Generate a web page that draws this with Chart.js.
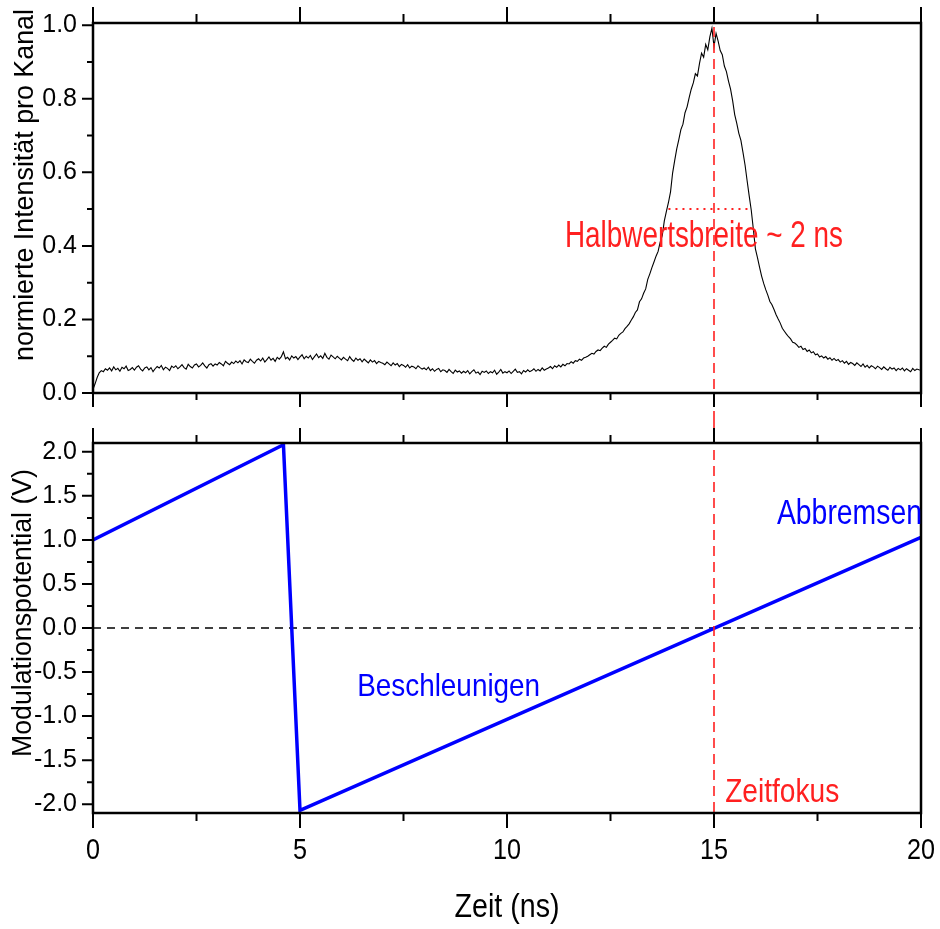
<!DOCTYPE html>
<html lang="de">
<head>
<meta charset="utf-8">
<title>Zeitfokus</title>
<script src="https://cdn.jsdelivr.net/npm/chart.js@4.4.1/dist/chart.umd.min.js"></script>
<style>
  html, body { margin: 0; padding: 0; background: #fff; }
  #wrap { position: relative; width: 940px; height: 929px; }
  #oben { position: absolute; left: 0; top: 0; }
  #unten { position: absolute; left: 0; top: 418px; }
</style>
</head>
<body>
<div id="wrap">
  <canvas id="oben" width="940" height="418"></canvas>
  <canvas id="unten" width="940" height="511"></canvas>
</div>
<script>
"use strict";

// Messdaten: normierte Intensitaet pro Kanal, ein Wert alle 0.05 ns (0 ... 20 ns)
const kanalBreiteNs = 0.05;
const intensitaet = [
  0.010, 0.025, 0.042, 0.055, 0.061, 0.058, 0.066, 0.062, 0.068, 0.060,
  0.071, 0.063, 0.067, 0.059, 0.070, 0.066, 0.073, 0.061, 0.064, 0.069,
  0.062, 0.070, 0.074, 0.065, 0.060, 0.068, 0.071, 0.063, 0.069, 0.058,
  0.066, 0.072, 0.068, 0.075, 0.063, 0.070, 0.067, 0.061, 0.073, 0.069,
  0.074, 0.066, 0.071, 0.077, 0.069, 0.065, 0.078, 0.072, 0.068, 0.076,
  0.079, 0.071, 0.075, 0.082, 0.074, 0.068, 0.077, 0.080, 0.073, 0.079,
  0.076, 0.083, 0.079, 0.074, 0.086, 0.081, 0.077, 0.084, 0.080, 0.087,
  0.082, 0.088, 0.079, 0.090, 0.085, 0.083, 0.092, 0.086, 0.081, 0.089,
  0.093, 0.087, 0.095, 0.084, 0.091, 0.098, 0.089, 0.094, 0.086, 0.097,
  0.092, 0.099, 0.112, 0.093, 0.097, 0.090, 0.101, 0.095, 0.099, 0.091,
  0.098, 0.104, 0.093, 0.100, 0.095, 0.102, 0.091, 0.099, 0.106, 0.096,
  0.101, 0.094, 0.108, 0.097, 0.092, 0.103, 0.098, 0.093, 0.100, 0.095,
  0.090, 0.097, 0.092, 0.088, 0.099, 0.091, 0.086, 0.095, 0.089, 0.093,
  0.085, 0.092, 0.087, 0.082, 0.090, 0.084, 0.088, 0.080, 0.086, 0.083,
  0.081, 0.077, 0.084, 0.079, 0.074, 0.082, 0.076, 0.080, 0.072, 0.078,
  0.075, 0.070, 0.077, 0.068, 0.073, 0.071, 0.066, 0.074, 0.069, 0.065,
  0.068, 0.063, 0.070, 0.061, 0.066, 0.059, 0.064, 0.067, 0.058, 0.063,
  0.061, 0.056, 0.064, 0.058, 0.053, 0.062, 0.057, 0.060, 0.054, 0.059,
  0.055, 0.061, 0.052, 0.058, 0.063, 0.054, 0.057, 0.050, 0.059, 0.056,
  0.060, 0.053, 0.058, 0.055, 0.062, 0.051, 0.057, 0.064, 0.054, 0.058,
  0.055, 0.060, 0.053, 0.059, 0.065, 0.056, 0.058, 0.052, 0.061, 0.057,
  0.063, 0.058, 0.061, 0.066, 0.059, 0.064, 0.060, 0.068, 0.062, 0.065,
  0.068, 0.072, 0.066, 0.074, 0.070, 0.076, 0.071, 0.078, 0.074, 0.080,
  0.079, 0.085, 0.081, 0.088, 0.086, 0.092, 0.089, 0.095, 0.097, 0.100,
  0.104, 0.108, 0.106, 0.113, 0.117, 0.115, 0.122, 0.127, 0.124, 0.133,
  0.138, 0.143, 0.149, 0.147, 0.157, 0.162, 0.166, 0.175, 0.181, 0.188,
  0.198, 0.207, 0.219, 0.226, 0.248, 0.256, 0.271, 0.283, 0.309, 0.324,
  0.341, 0.356, 0.372, 0.385, 0.410, 0.428, 0.468, 0.494, 0.518, 0.547,
  0.598, 0.632, 0.664, 0.689, 0.716, 0.731, 0.762, 0.778, 0.803, 0.826,
  0.843, 0.868, 0.862, 0.896, 0.924, 0.913, 0.948, 0.933, 0.968, 0.992,
  0.942, 0.978, 0.957, 0.931, 0.920, 0.889, 0.874, 0.848, 0.826, 0.795,
  0.757, 0.733, 0.706, 0.687, 0.654, 0.620, 0.577, 0.536, 0.497, 0.446,
  0.392, 0.368, 0.342, 0.318, 0.298, 0.281, 0.266, 0.249, 0.240, 0.227,
  0.213, 0.201, 0.190, 0.176, 0.168, 0.160, 0.153, 0.147, 0.138, 0.136,
  0.131, 0.124, 0.127, 0.118, 0.121, 0.113, 0.117, 0.109, 0.112, 0.104,
  0.106, 0.098, 0.101, 0.095, 0.099, 0.092, 0.096, 0.089, 0.094, 0.088,
  0.091, 0.084, 0.088, 0.081, 0.086, 0.078, 0.083, 0.080, 0.075, 0.082,
  0.077, 0.072, 0.079, 0.070, 0.075, 0.068, 0.074, 0.071, 0.066, 0.073,
  0.069, 0.064, 0.071, 0.066, 0.062, 0.070, 0.065, 0.068, 0.061, 0.067,
  0.063, 0.068, 0.060, 0.066, 0.062, 0.058, 0.067, 0.061, 0.065, 0.063,
  0.062
];

// Modulationspotential (Saegezahn), Eckpunkte
const saegeZeit = [0, 4.6, 5.0, 20];
const saegeSpannung = [1.0, 2.08, -2.07, 1.03];

// Hilfslinien
const nullZeit = [0, 20];
const nullWert = [0, 0];
const halbZeit = [13.9, 15.85];
const halbWert = [0.5, 0.5];
const zeitFokus = 15;

// Achsenteilung
const xHauptTicks = [0, 5, 10, 15, 20];
const xNebenTicks = [2.5, 7.5, 12.5, 17.5];
const xTickLabels = ["0", "5", "10", "15", "20"];
const yObenHaupt = [0, 0.2, 0.4, 0.6, 0.8, 1.0];
const yObenNeben = [0.1, 0.3, 0.5, 0.7, 0.9];
const yUntenHaupt = [-2.0, -1.5, -1.0, -0.5, 0, 0.5, 1.0, 1.5, 2.0];
const yUntenNeben = [-1.75, -1.25, -0.75, -0.25, 0.25, 0.75, 1.25, 1.75];

const SCHRIFT = '"Liberation Sans", Arial, sans-serif';
const ROT = "#ff2020";
const BLAU = "#0000ff";

function punkte(xs, ys) {
    return xs.map((x, i) => ({ x: x, y: ys[i] }));
}

// Text schreiben, wahlweise horizontal auf eine Breite gestaucht
function schreibe(ctx, text, x, y, groesse, breite, farbe, align, drehen) {
    ctx.save();
    ctx.font = groesse + "px " + SCHRIFT;
    ctx.fillStyle = farbe;
    ctx.textAlign = align || "left";
    ctx.textBaseline = "alphabetic";
    const w = ctx.measureText(text).width;
    ctx.translate(x, y);
    if (drehen) ctx.rotate(-Math.PI / 2);
    ctx.scale(breite ? breite / w : 1, 1);
    ctx.fillText(text, 0, 0);
    ctx.restore();
}

// Rahmen und nach aussen zeigende Teilstriche
function zeichneRahmen(chart, t) {
    const { ctx, chartArea: a, scales: { x, y } } = chart;
    ctx.save();
    ctx.strokeStyle = "#000";
    ctx.lineWidth = 2;
    ctx.beginPath();
    const xStrich = (v, oben, unten) => {
        const px = x.getPixelForValue(v);
        ctx.moveTo(px, a.top - oben);
        ctx.lineTo(px, a.top);
        ctx.moveTo(px, a.bottom);
        ctx.lineTo(px, a.bottom + unten);
    };
    xHauptTicks.forEach(v => xStrich(v, t.xObenHaupt, t.xUntenHaupt));
    xNebenTicks.forEach(v => xStrich(v, t.xObenNeben, t.xUntenNeben));
    const yStrich = (v, len) => {
        const py = y.getPixelForValue(v);
        ctx.moveTo(a.left - len, py);
        ctx.lineTo(a.left, py);
    };
    t.yHaupt.forEach(v => yStrich(v, 11));
    t.yNeben.forEach(v => yStrich(v, 6));
    ctx.stroke();
    ctx.lineWidth = 2.5;
    ctx.strokeRect(a.left, a.top, a.right - a.left, a.bottom - a.top);
    ctx.restore();
}

function fokusLinie(chart, von, bis) {
    const { ctx, scales: { x } } = chart;
    const px = x.getPixelForValue(zeitFokus);
    ctx.save();
    ctx.strokeStyle = ROT;
    ctx.lineWidth = 1.6;
    ctx.setLineDash([10, 6]);
    ctx.beginPath();
    ctx.moveTo(px, von);
    ctx.lineTo(px, bis);
    ctx.stroke();
    ctx.restore();
}

// feste Achsenbreite, keine zusaetzliche Randreserve fuer die Beschriftung
function yAchseFest(s) {
    s.width = 93;
    s.paddingTop = 0;
    s.paddingBottom = 0;
}

const yTickOptionen = {
    color: "#000",
    font: { family: SCHRIFT, size: 25 },
    padding: 16,
    includeBounds: false,
    callback: v => v.toFixed(1)
};

// ---------- oberes Diagramm: Intensitaet ----------
const obenPlugin = {
    id: "obenDeko",
    afterDatasetsDraw(chart) {
        const { ctx, scales: { x, y } } = chart;
        fokusLinie(chart, y.getPixelForValue(0.995), chart.height);
        zeichneRahmen(chart, {
            xObenHaupt: 16, xObenNeben: 9, xUntenHaupt: 14, xUntenNeben: 7,
            yHaupt: yObenHaupt, yNeben: yObenNeben
        });
        schreibe(ctx, "Halbwertsbreite ~ 2 ns", x.getPixelForValue(11.4), y.getPixelForValue(0.397), 37, 278, ROT);
        schreibe(ctx, "normierte Intensität pro Kanal", 33, 185, 27, 352, "#000", "center", true);
    }
};

new Chart(document.getElementById("oben"), {
    type: "line",
    data: {
        datasets: [
            {
                data: punkte(halbZeit, halbWert),
                borderColor: ROT,
                borderWidth: 2,
                borderDash: [2, 5],
                pointRadius: 0
            },
            {
                data: punkte(intensitaet.map((v, i) => i * kanalBreiteNs), intensitaet),
                borderColor: "#000",
                borderWidth: 1.1,
                pointRadius: 0,
                tension: 0
            }
        ]
    },
    options: {
        responsive: false,
        animation: false,
        events: [],
        layout: { padding: { top: 23, right: 19, bottom: 25, left: 0 } },
        plugins: { legend: { display: false }, tooltip: { enabled: false } },
        scales: {
            x: { type: "linear", min: 0, max: 20, display: false },
            y: {
                min: 0, max: 1.006,
                afterFit: yAchseFest,
                grid: { display: false, drawTicks: false },
                border: { display: false },
                ticks: Object.assign({ stepSize: 0.2 }, yTickOptionen)
            }
        }
    },
    plugins: [obenPlugin]
});

// ---------- unteres Diagramm: Modulationspotential ----------
const untenPlugin = {
    id: "untenDeko",
    afterDatasetsDraw(chart) {
        const { ctx, chartArea: a, scales: { x, y } } = chart;
        fokusLinie(chart, 0, a.bottom);
        zeichneRahmen(chart, {
            xObenHaupt: 15, xObenNeben: 8, xUntenHaupt: 15, xUntenNeben: 8,
            yHaupt: yUntenHaupt, yNeben: yUntenNeben
        });
        schreibe(ctx, "Beschleunigen", x.getPixelForValue(6.38), y.getPixelForValue(-0.774), 32, 183, BLAU);
        schreibe(ctx, "Abbremsen", x.getPixelForValue(16.52), y.getPixelForValue(1.185), 35, 145, BLAU);
        schreibe(ctx, "Zeitfokus", x.getPixelForValue(15.27), y.getPixelForValue(-1.97), 33, 114, ROT);
        // x-Beschriftung
        xHauptTicks.forEach((v, i) => {
            const w = xTickLabels[i].length * 14;
            schreibe(ctx, xTickLabels[i], x.getPixelForValue(v), a.bottom + 46, 30, w, "#000", "center");
        });
        schreibe(ctx, "Zeit (ns)", x.getPixelForValue(10), a.bottom + 104, 34, 105, "#000", "center");
        schreibe(ctx, "Modulationspotential (V)", 31, 613 - 418, 27, 288, "#000", "center", true);
    }
};

new Chart(document.getElementById("unten"), {
    type: "line",
    data: {
        datasets: [
            {
                data: punkte(saegeZeit, saegeSpannung),
                borderColor: BLAU,
                borderWidth: 3.5,
                pointRadius: 0,
                tension: 0
            },
            {
                data: punkte(nullZeit, nullWert),
                borderColor: "#000",
                borderWidth: 1.6,
                borderDash: [8, 6],
                pointRadius: 0
            }
        ]
    },
    options: {
        responsive: false,
        animation: false,
        events: [],
        layout: { padding: { top: 25, right: 19, bottom: 116, left: 0 } },
        plugins: { legend: { display: false }, tooltip: { enabled: false } },
        scales: {
            x: { type: "linear", min: 0, max: 20, display: false },
            y: {
                min: -2.1, max: 2.1,
                afterFit: yAchseFest,
                grid: { display: false, drawTicks: false },
                border: { display: false },
                ticks: Object.assign({ stepSize: 0.5 }, yTickOptionen)
            }
        }
    },
    plugins: [untenPlugin]
});
</script>
</body>
</html>
